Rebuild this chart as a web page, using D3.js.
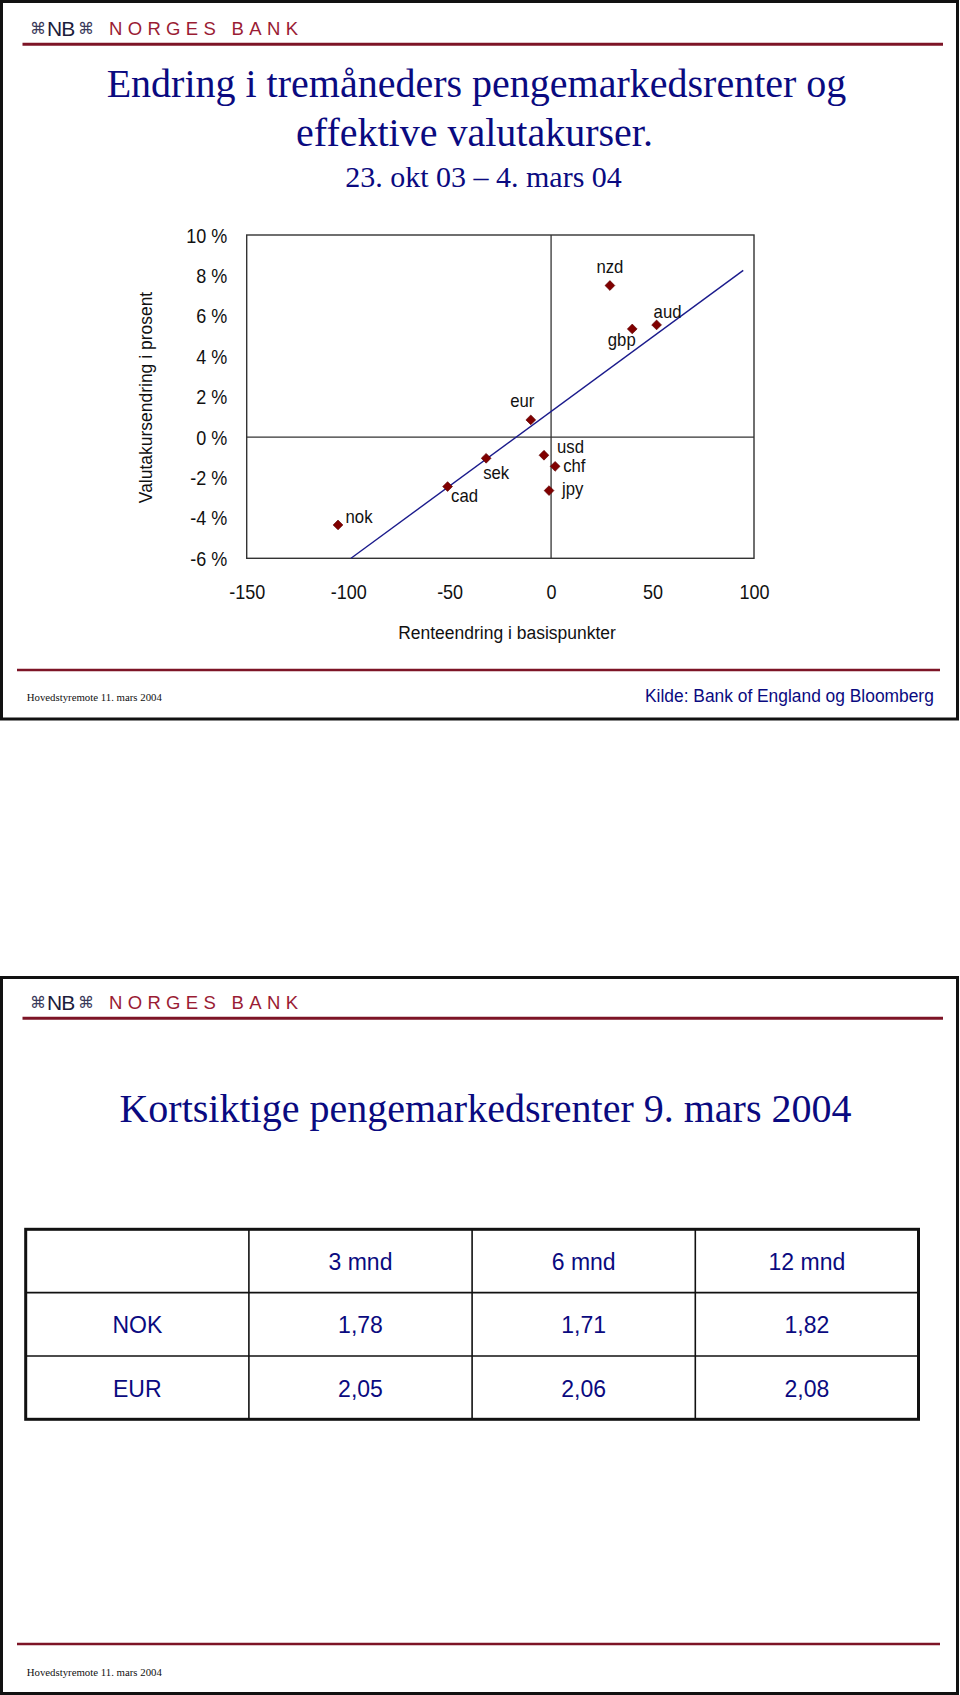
<!DOCTYPE html>
<html>
<head>
<meta charset="utf-8">
<script src="https://cdn.jsdelivr.net/npm/d3@7/dist/d3.min.js"></script>
<style>
  body { margin: 0; background: #fff; }
  svg { display: block; }
</style>
</head>
<body>
<svg id="page" width="960" height="1695"></svg>
<script>
// ---------- DATA ----------
const currencies = ["nok", "cad", "sek", "eur", "usd", "chf", "jpy", "nzd", "gbp", "aud"];
const rateChangeBp = [-105, -51, -32, -10, -3.5, 2, -1, 29, 40, 52];       // x: Renteendring i basispunkter
const fxChangePct = [-4.35, -2.45, -1.05, 0.85, -0.9, -1.45, -2.65, 7.5, 5.35, 5.55]; // y: Valutakursendring i prosent
const trendX = [-98.6, 94.7];
const trendY = [-6, 8.25];
const xTicks = [-150, -100, -50, 0, 50, 100];
const yTicks = [-6, -4, -2, 0, 2, 4, 6, 8, 10];

const tableColumns = ["", "3 mnd", "6 mnd", "12 mnd"];
const tableRows = ["NOK", "EUR"];
const nokRates = ["1,78", "1,71", "1,82"];
const eurRates = ["2,05", "2,06", "2,08"];

// ---------- STYLE / LAYOUT ----------
const NAVY = "#0a0a80";
const DARKRED = "#7d1426";
const SANS = "'Liberation Sans', Arial, sans-serif";
const SERIF = "'Liberation Serif', 'Times New Roman', serif";
const COND = 0.9;

// label placement relative to marker: [dx, dy, anchor]
const labelPlace = {
  nzd: [0, -13, "middle"], aud: [-3, -7, "start"], gbp: [-10.5, 17.5, "middle"],
  eur: [-8.5, -12.5, "middle"], usd: [13, -2, "start"], chf: [8, 5.5, "start"],
  jpy: [13, 4.5, "start"], sek: [10, 20.5, "middle"], cad: [3.5, 15.5, "start"],
  nok: [7.5, -2, "start"]
};

const svg = d3.select("#page");
svg.append("rect").attr("width", 960).attr("height", 1695).attr("fill", "#fff");

function condText(g, x, y, txt, size, anchor, k) {
  return g.append("text")
    .attr("transform", `translate(${x},${y}) scale(${k || COND},1)`)
    .attr("text-anchor", anchor || "start")
    .attr("font-family", SANS).attr("font-size", size)
    .text(txt);
}

function slideFrame(top, bottom) {
  svg.append("rect").attr("x", 1.5).attr("y", top).attr("width", 956).attr("height", bottom - top)
    .attr("fill", "none").attr("stroke", "#111").attr("stroke-width", 3);
}

function header(textCy, lineY) {
  const g = svg.append("g");
  g.append("text").attr("x", 30).attr("y", textCy + 6).attr("font-family", "'DejaVu Sans', sans-serif")
    .attr("font-size", 16).attr("fill", "#3a3a5a").text("⌘");
  g.append("text").attr("x", 47).attr("y", textCy + 7.5).attr("font-family", SANS)
    .attr("font-size", 21).attr("letter-spacing", -1).attr("fill", "#1c1c3c").text("NB");
  g.append("text").attr("x", 78).attr("y", textCy + 6).attr("font-family", "'DejaVu Sans', sans-serif")
    .attr("font-size", 16).attr("fill", "#3a3a5a").text("⌘");
  g.append("text").attr("x", 109).attr("y", textCy + 6.8).attr("font-family", SANS)
    .attr("font-size", 18.5).attr("fill", "#9a1c34")
    .attr("textLength", 189).attr("lengthAdjust", "spacing").text("NORGES BANK");
  g.append("line").attr("x1", 22.5).attr("x2", 943).attr("y1", lineY).attr("y2", lineY)
    .attr("stroke", DARKRED).attr("stroke-width", 3);
}

function footer(lineY, textY) {
  svg.append("line").attr("x1", 17).attr("x2", 940).attr("y1", lineY).attr("y2", lineY)
    .attr("stroke", DARKRED).attr("stroke-width", 2.5);
  svg.append("text").attr("x", 26.7).attr("y", textY).attr("font-family", SERIF)
    .attr("font-size", 10.8).attr("fill", "#111").text("Hovedstyremote 11. mars 2004");
}

// ---------- SLIDE 1 ----------
slideFrame(1.5, 719);
header(28.3, 44.3);

const titleG = svg.append("g").attr("font-family", SERIF).attr("fill", NAVY).attr("text-anchor", "middle");
titleG.append("text").attr("x", 476.5).attr("y", 97).attr("font-size", 40).text("Endring i tremåneders pengemarkedsrenter og");
titleG.append("text").attr("x", 474.5).attr("y", 146).attr("font-size", 40).text("effektive valutakurser.");
titleG.append("text").attr("x", 483.5).attr("y", 186.5).attr("font-size", 30).text("23. okt 03 – 4. mars 04");

const plot = { left: 246.7, right: 754, top: 235, bottom: 558.3 };
const x = d3.scaleLinear().domain([-150, 100]).range([plot.left, plot.right]);
const y = d3.scaleLinear().domain([-6, 10]).range([plot.bottom, plot.top]);

const chart = svg.append("g");
chart.append("rect").attr("x", plot.left).attr("y", plot.top)
  .attr("width", plot.right - plot.left).attr("height", plot.bottom - plot.top)
  .attr("fill", "none").attr("stroke", "#333").attr("stroke-width", 1.4);
chart.append("line").attr("x1", plot.left).attr("x2", plot.right).attr("y1", y(0)).attr("y2", y(0))
  .attr("stroke", "#333").attr("stroke-width", 1.3);
chart.append("line").attr("x1", x(0)).attr("x2", x(0)).attr("y1", plot.top).attr("y2", plot.bottom)
  .attr("stroke", "#333").attr("stroke-width", 1.3);

// axes
const yAxis = chart.append("g").attr("transform", `translate(${plot.left},0)`)
  .call(d3.axisLeft(y).tickValues(yTicks).tickSize(0).tickPadding(0).tickFormat(d => `${d} %`));
yAxis.select(".domain").remove();
yAxis.selectAll("text").attr("x", null).attr("dy", null)
  .attr("transform", `translate(-19.4,7) scale(${COND},1)`)
  .attr("font-family", SANS).attr("font-size", 20).attr("fill", "#111");

const xAxis = chart.append("g").attr("transform", `translate(0,${plot.bottom})`)
  .call(d3.axisBottom(x).tickValues(xTicks).tickSize(0).tickPadding(0).tickFormat(d => `${d}`));
xAxis.select(".domain").remove();
xAxis.selectAll("text").attr("y", null).attr("dy", null)
  .attr("transform", `translate(0,40.5) scale(${COND},1)`)
  .attr("font-family", SANS).attr("font-size", 20).attr("fill", "#111");

condText(chart, 507, 638.5, "Renteendring i basispunkter", 19, "middle", 0.92).attr("fill", "#111");
chart.append("text")
  .attr("transform", `translate(151.5,397.5) rotate(-90) scale(0.92,1)`)
  .attr("text-anchor", "middle").attr("font-family", SANS).attr("font-size", 19).attr("fill", "#111")
  .text("Valutakursendring i prosent");

// trend line
const pts = trendX.map((v, i) => [v, trendY[i]]);
chart.append("path").datum(pts)
  .attr("d", d3.line().x(d => x(d[0])).y(d => y(d[1])))
  .attr("fill", "none").attr("stroke", "#1b1b8c").attr("stroke-width", 1.4);

// points
const data = currencies.map((c, i) => ({ c, bp: rateChangeBp[i], pct: fxChangePct[i] }));
const diamond = d3.symbol().type(d3.symbolSquare).size(48);
chart.selectAll(".pt").data(data).join("path").attr("class", "pt")
  .attr("d", diamond)
  .attr("transform", d => `translate(${x(d.bp)},${y(d.pct)}) rotate(45)`)
  .attr("fill", "#800000").attr("stroke", "#5a0000").attr("stroke-width", 0.6);

chart.selectAll(".lbl").data(data).join("text").attr("class", "lbl")
  .attr("transform", d => `translate(${x(d.bp) + labelPlace[d.c][0]},${y(d.pct) + labelPlace[d.c][1]}) scale(0.93,1)`)
  .attr("text-anchor", d => labelPlace[d.c][2])
  .attr("font-family", SANS).attr("font-size", 18).attr("fill", "#111")
  .text(d => d.c);

footer(670, 700.5);
condText(svg, 645, 702, "Kilde: Bank of England og Bloomberg", 18.5, "start", 0.94).attr("fill", NAVY);

// ---------- SLIDE 2 ----------
slideFrame(977.5, 1693.5);
header(1002.3, 1018.3);
svg.append("text").attr("x", 485.5).attr("y", 1121.5).attr("text-anchor", "middle")
  .attr("font-family", SERIF).attr("font-size", 40).attr("fill", NAVY)
  .text("Kortsiktige pengemarkedsrenter 9. mars 2004");

const tbl = { left: 25.7, right: 918.5, top: 1229.3, bottom: 1419.3 };
const rowKeys = ["head"].concat(tableRows);
const colX = d3.scaleBand().domain(tableColumns.map((d, i) => i)).range([tbl.left, tbl.right]);
const rowY = d3.scaleBand().domain(rowKeys).range([tbl.top, tbl.bottom]);
const tg = svg.append("g");
tableColumns.slice(1).forEach((d, i) => {
  const xx = colX(i + 1);
  tg.append("line").attr("x1", xx).attr("x2", xx).attr("y1", tbl.top).attr("y2", tbl.bottom)
    .attr("stroke", "#111").attr("stroke-width", 1.6);
});
rowKeys.slice(1).forEach(r => {
  const yy = rowY(r);
  tg.append("line").attr("x1", tbl.left).attr("x2", tbl.right).attr("y1", yy).attr("y2", yy)
    .attr("stroke", "#111").attr("stroke-width", 1.6);
});
tg.append("rect").attr("x", tbl.left).attr("y", tbl.top).attr("width", tbl.right - tbl.left)
  .attr("height", tbl.bottom - tbl.top).attr("fill", "none").attr("stroke", "#111").attr("stroke-width", 3);

const cells = [];
tableColumns.forEach((c, i) => { if (c) cells.push({ col: i, row: "head", t: c }); });
const rowVals = { NOK: nokRates, EUR: eurRates };
tableRows.forEach(r => {
  cells.push({ col: 0, row: r, t: r });
  rowVals[r].forEach((v, j) => cells.push({ col: j + 1, row: r, t: v }));
});
tg.selectAll(".cell").data(cells).join("text").attr("class", "cell")
  .attr("x", d => colX(d.col) + colX.bandwidth() / 2)
  .attr("y", d => rowY(d.row) + rowY.bandwidth() / 2 + 9)
  .attr("text-anchor", "middle").attr("font-family", SANS).attr("font-size", 23)
  .attr("fill", NAVY).text(d => d.t);

footer(1644, 1675.5);
</script>
</body>
</html>
